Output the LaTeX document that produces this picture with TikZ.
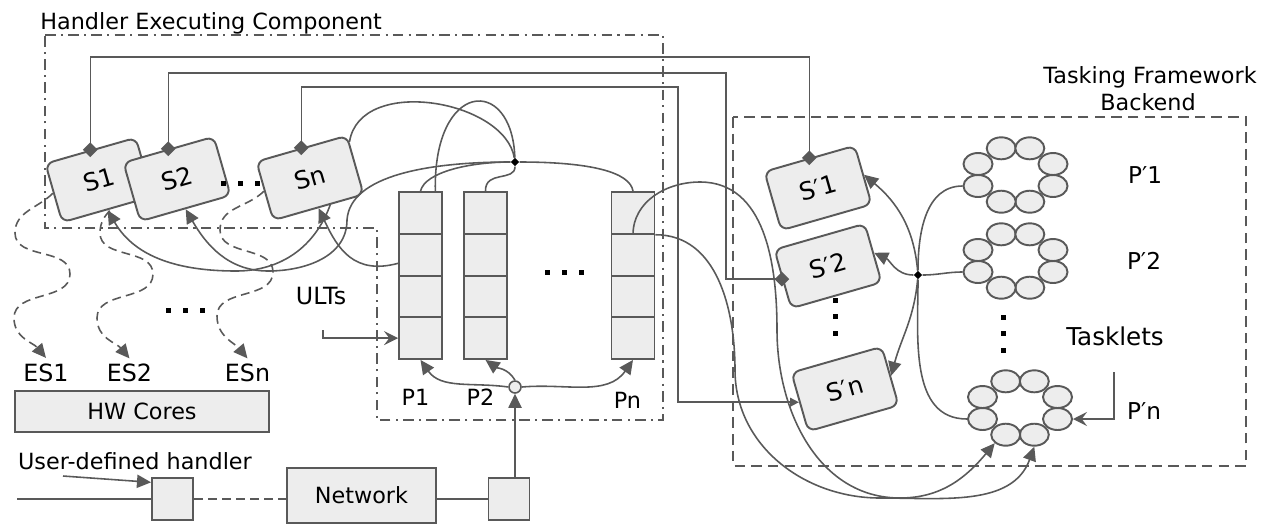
\documentclass[tikz,border=0pt]{standalone}
\usepackage{fontspec}
\setmainfont{DejaVu Sans}
\usetikzlibrary{arrows.meta,shapes.geometric,calc}
\definecolor{lc}{HTML}{595959}
\definecolor{fc}{HTML}{EDEDED}
\pgfdeclarelayer{bg}
\pgfsetlayers{bg,main}
\newcommand\sqdot[1]{\fill[black] (#1) +(-2.5,-2.5) rectangle +(2.5,2.5);}
\begin{document}
\begin{tikzpicture}[x=0.02cm,y=0.02cm,
  ln/.style={draw=lc,line width=0.9pt},
  arr/.style={ln,-{Triangle[length=8pt,width=7.5pt]}},
  barb/.style={ln,-{Stealth[length=8pt,width=8pt,inset=3pt]}},
  dashln/.style={ln,dash pattern=on 5pt off 3pt},
  dashdot/.style={draw=lc,line width=1pt,dash pattern=on 6pt off 3pt on 1.2pt off 3pt},
  dashbox/.style={draw=lc,line width=1.1pt,dash pattern=on 6pt off 3.5pt},
  lbl/.style={font=\fontsize{12.7}{15}\selectfont,inner sep=0pt},
  sbox/.style={draw=lc,fill=fc,line width=1.1pt,rounded corners=4.5pt,rotate=16,
    minimum width=1.88cm,minimum height=1.22cm,inner sep=0pt,font=\fontsize{14}{16}\selectfont},
  qcell/.style={draw=lc,fill=fc,line width=1.1pt,minimum width=0.86cm,minimum height=0.835cm,inner sep=0pt},
  tasklet/.style={ellipse,draw=lc,fill=fc,line width=1.1pt,minimum width=0.58cm,minimum height=0.44cm,inner sep=0pt},
  plainbox/.style={draw=lc,fill=fc,line width=1.1pt,inner sep=0pt},
  gdmd/.style={diamond,fill=lc,inner sep=0pt,minimum size=0.3cm},
  bdmd/.style={diamond,fill=black,inner sep=0pt,minimum size=0.17cm},
  eslbl/.style={font=\fontsize{13.5}{16}\selectfont,inner sep=3pt}
]
\useasboundingbox (0,0) rectangle (1270,-525);

% ---------- titles ----------
\node[lbl,anchor=base west] (hec) at (40,-29) {Handler Executing Component};
\node[lbl,anchor=base] (tf1) at (1150,-83) {Tasking Framework};
\node[lbl,anchor=base] (tf2) at (1148,-110) {Backend};

% ---------- S boxes ----------
\node[sbox] (S1) at (99,-180) {S1};
\node[sbox] (S2) at (177,-179) {S2};
\node[sbox] (Sn) at (310,-178) {Sn};
\node[sbox] (Sp1) at (818,-188) {S′1};
\node[sbox] (Sp2) at (828,-266) {S′2};
\node[sbox] (Spn) at (845,-389) {S′n};

% ---------- queues ----------
\foreach \q/\x in {p1/420.5,p2/485.5,pn/633}{
  \node[qcell] (\q-a) at (\x,-212.9) {};
  \node[qcell] (\q-b) at (\x,-254.6) {};
  \node[qcell] (\q-c) at (\x,-296.4) {};
  \node[qcell] (\q-d) at (\x,-338.1) {};
}
\node[lbl] (lp1) at (415.5,-397) {P1};
\node[lbl] (lp2) at (480.5,-397) {P2};
\node[lbl] (lpn) at (627.5,-400) {Pn};
\node[lbl,font=\fontsize{13.5}{16}\selectfont] (ults) at (321,-296) {ULTs};

% ---------- tasklet rings ----------
\coordinate (r1) at (1015.5,-175);
\coordinate (r2) at (1015.5,-261);
\coordinate (rn) at (1020,-408);
\foreach \r in {r1,r2,rn}{
  \foreach \i/\dx/\dy in {1/-14.3/26.7,2/14.3/26.7,3/37.5/11,4/37.5/-11,5/14.3/-26.7,6/-14.3/-26.7,7/-37.5/-11,8/-37.5/11}{
    \node[tasklet] (\r-\i) at ($(\r)+(\dx,\dy)$) {};
  }
}
\node[lbl,font=\fontsize{13.2}{15}\selectfont] (lpp1) at (1145,-175) {P′1};
\node[lbl,font=\fontsize{13.2}{15}\selectfont] (lpp2) at (1144,-261) {P′2};
\node[lbl,font=\fontsize{13.2}{15}\selectfont] (lppn) at (1144,-411) {P′n};
\node[lbl,font=\fontsize{14}{16}\selectfont] (tasklets) at (1115,-336) {Tasklets};

% ---------- junctions ----------
\node[bdmd] (J1) at (515,-162) {};
\node[bdmd] (J2) at (918,-275) {};
\node[circle,draw=lc,fill=fc,line width=0.9pt,minimum size=0.24cm,inner sep=0pt] (C) at (515,-387) {};

% ---------- bottom left ----------
\node[eslbl] (es1) at (46,-372.5) {ES1};
\node[eslbl] (es2) at (129.5,-373) {ES2};
\node[eslbl] (esn) at (247.5,-373) {ESn};
\node[plainbox,lbl,minimum width=5.08cm,minimum height=0.82cm] (hw) at (142,-411.5) {HW Cores};
\node[lbl] (udh) at (135,-461) {User-defined handler};
\node[plainbox,minimum width=0.82cm,minimum height=0.84cm] (nb1) at (172.5,-499) {};
\node[plainbox,lbl,minimum width=2.98cm,minimum height=1.1cm] (net) at (361.5,-495.5) {Network};
\node[plainbox,minimum width=0.82cm,minimum height=0.84cm] (nb2) at (509,-499) {};

% ---------- background: frames and dashed links ----------
\begin{pgfonlayer}{bg}
\draw[dashdot] (45,-35) -- (663,-35) -- (663,-420) -- (377,-420) -- (377,-228) -- (45,-228) -- cycle;
\draw[dashbox] (733,-117) rectangle (1246,-466);
\draw[dashln,-{Triangle[length=8pt,width=7.5pt]}] (S1.west) to[out=-135,in=90] (15,-233) to[out=-90,in=90] (70,-274) to[out=-90,in=90] (14,-318) to[out=-90,in=130] (es1.north);
\draw[dashln,-{Triangle[length=8pt,width=7.5pt]}] (S2.west) to[out=-135,in=90] (100,-233) to[out=-90,in=90] (153,-274) to[out=-90,in=90] (97,-318) to[out=-90,in=130] (es2.north);
\draw[dashln,-{Triangle[length=8pt,width=7.5pt]}] (Sn.west) to[out=-135,in=90] (220,-230) to[out=-90,in=90] (273,-272) to[out=-90,in=90] (217,-316) to[out=-90,in=130] (esn.north);
\end{pgfonlayer}

% ---------- dots ----------
\sqdot{223,-183}\sqdot{240,-183}\sqdot{257,-183}
\sqdot{547,-272}\sqdot{564,-272}\sqdot{581,-272}
\sqdot{168,-310}\sqdot{185,-310}\sqdot{202,-310}
\sqdot{835,-300}\sqdot{835,-316}\sqdot{835,-333}
\sqdot{1003,-317}\sqdot{1003,-333}\sqdot{1003,-350}

% ---------- long links between S and S' ----------
\coordinate (k1) at (700,-57);
\coordinate (k2) at (726,-73);
\coordinate (k3) at (678,-87);
\draw[ln] (S1.north) |- (k1) -| (Sp1.north);
\draw[ln] (S2.north) |- (k2) |- (Sp2.west);
\draw[ln,-{Triangle[length=5pt,width=5pt]}] (Sn.north) |- (k3) |- (Spn.west);

% ---------- links around J1 ----------
\draw[arr] (J1) .. controls (430,-162) and (350,-175) .. (347,-220) to[out=-90,in=0] (268,-271) to[out=180,in=-60] (S2.south);
\draw[arr] ($(Sn.south)!0.25!(Sn.south east)$) to[out=-110,in=0] (236,-271) to[out=180,in=-60] (S1.south);
\draw[arr] ($(p1-b.west)!0.4!(p1-b.south west)$) to[out=195,in=-65,looseness=1.2] (Sn.south);
\draw[ln] ($(Sn.north east)!0.12!(Sn.south east)$) .. controls (360,-75) and (505,-100) .. (J1);
\draw[ln] ($(p1-a.north)!0.66!(p1-a.north east)$) .. controls (433,-80) and (512,-75) .. (J1);
\draw[ln] (p1-a.north) .. controls (425,-172) and (470,-162) .. (J1);
\draw[ln] (p2-a.north) .. controls (485,-170) and (515,-182) .. (J1);
\draw[ln] (pn-a.north) .. controls (630,-172) and (590,-162) .. (J1);

% ---------- Pn to P'n ----------
\draw[arr] (pn-a.south) to[out=90,in=180] (700,-182) to[out=0,in=90] (777,-330) to[out=-90,in=180] (900,-498) to[out=0,in=-130] (rn-6.south west);
\draw[arr] (pn-a.south east) to[out=0,in=90] (735,-370) to[out=-90,in=180] (880,-498) to[out=0,in=-110] (rn-5.south);

% ---------- links around J2 ----------
\draw[arr] (J2) to[out=95,in=-40] (Sp1.east);
\draw[arr] (J2) to[out=180,in=-25] (Sp2.east);
\draw[arr] (J2) to[out=-95,in=75] (Spn.east);
\draw[ln] (J2) to[out=90,in=180] (r1-7.west);
\draw[ln] (J2) to[out=0,in=180] (r2-7.west);
\draw[ln] (J2) to[out=-90,in=180] (rn-7.west);

% ---------- diamonds ----------
\node[gdmd] (d1) at (S1.north) {};
\node[gdmd] (d2) at (S2.north) {};
\node[gdmd] (d3) at (Sn.north) {};
\node[gdmd] (d4) at (Sp1.north) {};
\node[gdmd] (d5) at (Sp2.west) {};

% ---------- circle to queues ----------
\draw[arr] (C.west) to[out=172,in=-55] (p1-d.south);
\draw[arr] (C.north) to[out=120,in=-35] (p2-d.south);
\draw[arr] (C.east) to[out=5,in=-125] (pn-d.south);
\draw[arr] (nb2.north -| C.south) -- (C.south);

% ---------- small arrows ----------
\coordinate (u0) at (323,-330);
\draw[barb] (u0) |- (p1-d.west);
\coordinate (t0) at (1114,-372);
\draw[barb] (t0) |- (rn-4.east);

% ---------- bottom network ----------
\coordinate (h0) at (17,-499);
\coordinate (uh) at (63,-476);
\draw[ln] (h0) -- (nb1.west);
\draw[arr] (uh) -- ($(nb1.north west)!0.12!(nb1.south west)$);
\draw[dashln] (nb1.east) -- (nb1.east -| net.west);
\draw[ln] (nb2.west -| net.east) -- (nb2.west);
\end{tikzpicture}
\end{document}
